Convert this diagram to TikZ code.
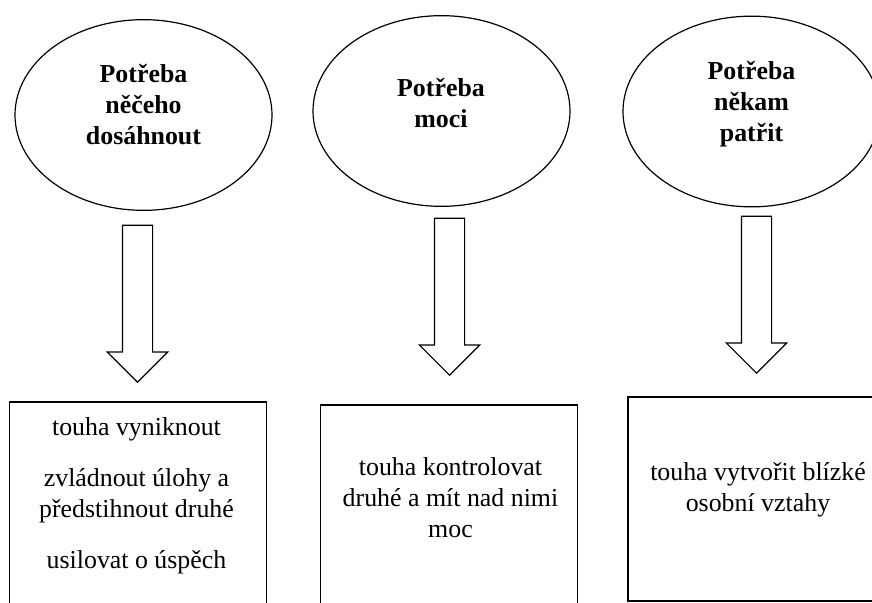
\documentclass[tikz,border=0pt]{standalone}
\usepackage{fontspec}
\setmainfont{Liberation Serif}
\usetikzlibrary{shapes.geometric,shapes.arrows}

\begin{document}
\begin{tikzpicture}[x=0.75pt,y=-0.75pt]
\tikzset{elipsa/.style={draw, ellipse, line width=0.9pt, minimum width=192.75pt, minimum height=143pt, inner sep=0pt}}
\tikzset{ramecek/.style={draw, rectangle, line width=0.9pt, minimum width=192.75pt, minimum height=180pt, inner sep=0pt}}
\tikzset{sipka/.style={draw, single arrow, line width=0.9pt, rotate=-90, anchor=tip, inner xsep=0pt, inner ysep=10.875pt, single arrow head extend=11.25pt, minimum height=117.75pt}}
\tikzset{popis/.style={align=center, inner sep=0pt, anchor=north, font=\fontsize{19.4}{23.25}\selectfont}}
\useasboundingbox (0,0) rectangle (872,603);
\clip (0,0) rectangle (872,603);
% potreby
\node[elipsa] (E1) at (143.5,115) {};
\node[elipsa] (E2) at (441.5,111) {};
\node[elipsa] (E3) at (751.5,111.5) {};
\node[popis, font=\fontsize{19.4}{23.25}\selectfont\bfseries] (T1) at (143.5,64) {Potřeba\\něčeho\\dosáhnout};
\node[popis, font=\fontsize{19.4}{23.25}\selectfont\bfseries] (T2) at (441,78) {Potřeba\\moci};
\node[popis, font=\fontsize{19.4}{23.25}\selectfont\bfseries] (T3) at (751.5,61) {Potřeba\\někam\\patřit};
% sipky
\node[sipka] (S1) at (137.5,383) {};
\node[sipka] (S2) at (449.5,376) {};
\node[sipka] (S3) at (756.5,374) {};
% ramecky
\node[ramecek] (B1) at (138,522) {};
\node[ramecek] (B2) at (449,525) {};
\node[ramecek, minimum height=153pt] (B3) at (756.5,499) {};
\node[popis] (U1) at (136.5,417) {touha vyniknout\\[15pt]zvládnout úlohy a\\předstihnout druhé\\[15pt]usilovat o úspěch};
\node[popis] (U2) at (450.5,457) {touha kontrolovat\\druhé a mít nad nimi\\moc};
\node[popis] (U3) at (758,462) {touha vytvořit blízké\\osobní vztahy};
\end{tikzpicture}
\end{document}
